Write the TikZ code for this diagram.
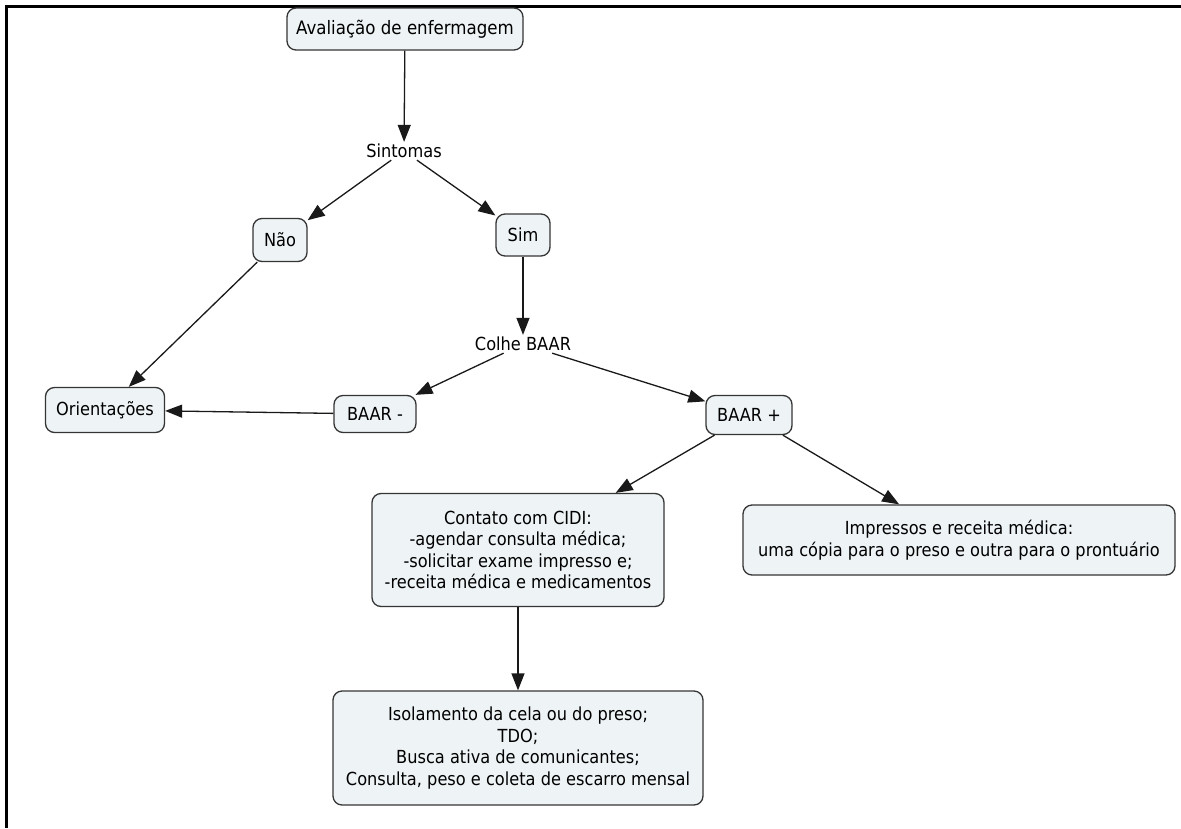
\documentclass[tikz,border=0pt]{standalone}
\usepackage{fontspec}
\setmainfont{DejaVu Sans}[FakeStretch=0.9]
\usetikzlibrary{arrows.meta}
\definecolor{boxfill}{HTML}{EEF3F5}
\definecolor{boxline}{HTML}{353535}
\begin{document}
\begin{tikzpicture}[x=1pt,y=-1pt,
  cbox/.style={draw=boxline,line width=1.3pt,fill=boxfill,rounded corners=9pt,align=center,inner sep=0pt,font=\fontsize{18}{21.6}\selectfont},
  plain/.style={align=center,inner sep=2pt,font=\fontsize{18}{21.6}\selectfont},
  arr/.style={line width=1.3pt,draw=black!90,-{Triangle[length=17pt,width=13pt]}}]
\useasboundingbox (0,0) rectangle (1181,828);
\fill[white] (0,0) rectangle (1181,828);
\draw[line width=3pt] (6,828) -- (6,6) -- (1181,6);
\node[cbox,minimum width=236pt,minimum height=42pt,font=\fontsize{18.5}{22}\selectfont] (aval) at (405,29) {Avaliação de enfermagem};
\node[plain] (sint) at (404,151) {Sintomas};
\node[cbox,minimum width=54pt,minimum height=43pt] (nao) at (280,240) {Não};
\node[cbox,minimum width=54pt,minimum height=42pt] (sim) at (523,235) {Sim};
\node[plain] (colhe) at (523,344) {Colhe BAAR};
\node[cbox,minimum width=119pt,minimum height=45pt] (orient) at (105,410) {Orientações};
\node[cbox,minimum width=82pt,minimum height=37pt] (bneg) at (375,414) {BAAR -};
\node[cbox,minimum width=86pt,minimum height=39pt] (bpos) at (749,415) {BAAR +};
\node[cbox,minimum width=292pt,minimum height=113pt] (cont) at (518,550) {Contato com CIDI:\\-agendar consulta médica;\\-solicitar exame impresso e;\\-receita médica e medicamentos};
\node[cbox,minimum width=432pt,minimum height=70pt] (imp) at (959,540) {Impressos e receita médica:\\uma cópia para o preso e outra para o prontuário};
\node[cbox,minimum width=370pt,minimum height=114pt] (iso) at (518,748) {Isolamento da cela ou do preso;\\TDO;\\Busca ativa de comunicantes;\\Consulta, peso e coleta de escarro mensal};
\draw[arr] (aval) -- (sint);
\draw[arr] (sint) -- (nao);
\draw[arr] (sint) -- (sim);
\draw[arr] (nao) -- (orient);
\draw[arr] (sim) -- (colhe);
\draw[arr] (colhe) -- (bneg);
\draw[arr] (colhe) -- (bpos);
\draw[arr] (bneg) -- (orient);
\draw[arr] (bpos) -- (cont);
\draw[arr] (bpos) -- (imp);
\draw[arr] (cont) -- (iso);
\end{tikzpicture}
\end{document}
